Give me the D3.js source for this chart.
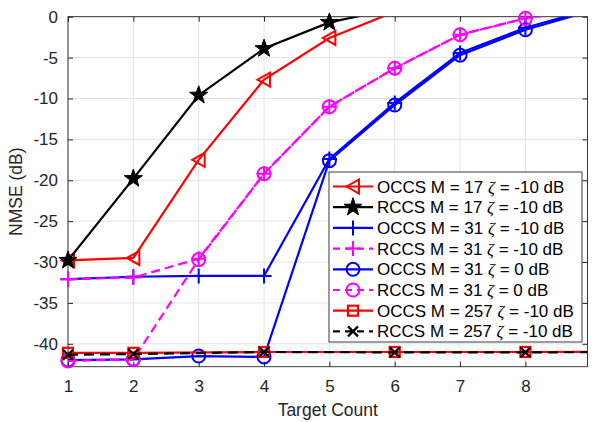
<!DOCTYPE html>
<html><head><meta charset="utf-8">
<script src="https://cdn.jsdelivr.net/npm/d3@7"></script>
<style>body{margin:0;background:#fff}svg{display:block}text{font-family:"Liberation Sans",Arial,sans-serif;fill:#262626}</style>
</head><body><svg id="c" width="596" height="422"></svg>
<script>
const xTicks = [1,2,3,4,5,6,7,8];
const yTicks = [-40,-35,-30,-25,-20,-15,-10,-5,0];
const xFull = [1,2,3,4,5,6,7,8,9];
const xSparse = [1,2,4,6,8,10];
const occs17 = [-29.8,-29.5,-17.5,-7.7,-2.6,0.6];
const rccs17 = [-29.8,-19.8,-9.6,-3.9,-0.7,1.0];
const occs31n10 = [-32.1,-31.8,-31.7,-31.7,-17.4,-10.55,-4.45,-1.35,0.9];
const rccs31n10 = [-32.1,-31.9,-29.6,-19.2,-11.0,-6.3,-2.2,-0.2,1.0];
const occs31z0 = [-42.0,-41.9,-41.5,-41.6,-17.6,-10.8,-4.7,-1.6,0.7];
const rccs31z0 = [-42.1,-41.9,-29.7,-19.2,-11.0,-6.3,-2.2,-0.2,1.0];
const occs257 = [-41.1,-41.1,-41.0,-41.0,-41.0,-40.95];
const rccs257 = [-41.35,-41.25,-41.0,-41.05,-41.05,-41.0];
const labels = ["OCCS M = 17 ","RCCS M = 17 ","OCCS M = 31 ","RCCS M = 31 ","OCCS M = 31 ","RCCS M = 31 ","OCCS M = 257 ","RCCS M = 257 "];
const zetaVals = ["-10 dB","-10 dB","-10 dB","-10 dB","0 dB","0 dB","-10 dB","-10 dB"];

const series = [
 {x:xFull, y:occs17, color:"#ff0000", dash:null, marker:"tri"},
 {x:xFull, y:rccs17, color:"#000000", dash:null, marker:"star"},
 {x:xFull, y:occs31n10, color:"#0000ff", dash:null, marker:"plus"},
 {x:xFull, y:rccs31n10, color:"#ff00ff", dash:"9,5", marker:"plus"},
 {x:xFull, y:occs31z0, color:"#0000ff", dash:null, marker:"circle"},
 {x:xFull, y:rccs31z0, color:"#ff00ff", dash:"9,5", marker:"circle"},
 {x:xSparse, y:occs257, color:"#ff0000", dash:null, marker:"square"},
 {x:xSparse, y:rccs257, color:"#000000", dash:"10,6", marker:"x"}
];

const L=68, R=587.5, T=16.7, B=366.7;
const x = d3.scaleLinear().domain([1,8.95]).range([L,R]);
const y = d3.scaleLinear().domain([-42.8,0]).range([B,T]);
const svg = d3.select("#c");

// grid
const g = svg.append("g");
g.selectAll(".gx").data(xTicks).enter().append("line")
 .attr("x1",d=>x(d)).attr("x2",d=>x(d)).attr("y1",T).attr("y2",B)
 .attr("stroke","#e3e3e3").attr("stroke-width",1);
g.selectAll(".gy").data(yTicks).enter().append("line")
 .attr("y1",d=>y(d)).attr("y2",d=>y(d)).attr("x1",L).attr("x2",R)
 .attr("stroke","#e3e3e3").attr("stroke-width",1);

// axes
const ax = svg.append("g").attr("transform",`translate(0,${B})`)
 .call(d3.axisBottom(x).tickValues(xTicks).tickSize(-5).tickPadding(13).tickFormat(d3.format("d")));
const ay = svg.append("g").attr("transform",`translate(${L},0)`)
 .call(d3.axisLeft(y).tickValues(yTicks).tickSize(-5).tickPadding(10).tickFormat(d=>String(d)));
const axT = svg.append("g").attr("transform",`translate(0,${T})`)
 .call(d3.axisTop(x).tickValues(xTicks).tickSize(-5).tickFormat(""));
const ayR = svg.append("g").attr("transform",`translate(${R},0)`)
 .call(d3.axisRight(y).tickValues(yTicks).tickSize(-5).tickFormat(""));
[ax,ay,axT,ayR].forEach(a=>{
 a.attr("font-size",null).attr("font-family",null);
 a.select(".domain").remove();
 a.selectAll(".tick line").attr("stroke","#262626");
 a.selectAll("text").style("font-size","17px").attr("fill","#262626");
});
svg.append("rect").attr("x",L).attr("y",T).attr("width",R-L).attr("height",B-T)
 .attr("fill","none").attr("stroke","#262626").attr("stroke-width",0.9);

svg.append("defs").append("clipPath").attr("id","clip").append("rect")
 .attr("x",L).attr("y",T).attr("width",R-L).attr("height",B-T);

function star(r){const pts=[];for(let i=0;i<10;i++){const a=-Math.PI/2+i*Math.PI/5;const rr=i%2?r*0.4:r;pts.push([rr*Math.cos(a),rr*Math.sin(a)]);}return "M"+pts.map(p=>p.join(",")).join("L")+"Z";}
function drawMarker(sel,type,cx,cy,color){
 const m = sel.append("g").attr("transform",`translate(${cx},${cy})`);
 const sw=2;
 if(type==="tri") m.append("path").attr("d","M-6.5,0L6,-7L6,7Z").attr("fill","none").attr("stroke",color).attr("stroke-width",sw);
 else if(type==="star") m.append("path").attr("d",star(9.5)).attr("fill",color).attr("stroke",color).attr("stroke-width",1);
 else if(type==="plus") m.append("path").attr("d","M-7.5,0H7.5M0,-7.5V7.5").attr("stroke",color).attr("stroke-width",sw);
 else if(type==="circle") m.append("circle").attr("r",6.5).attr("fill","none").attr("stroke",color).attr("stroke-width",sw);
 else if(type==="square") m.append("rect").attr("x",-5).attr("y",-5).attr("width",10).attr("height",10).attr("fill","none").attr("stroke",color).attr("stroke-width",2.2);
 else if(type==="x") m.append("path").attr("d","M-5,-5L5,5M-5,5L5,-5").attr("stroke",color).attr("stroke-width",2.2);
}

const line = d3.line().x(d=>x(d[0])).y(d=>y(d[1]));
const plot = svg.append("g");
series.forEach(s=>{
 const pts = s.y.map((v,i)=>[s.x[i],v]);
 plot.append("path").attr("d",line(pts)).attr("clip-path","url(#clip)")
  .attr("fill","none").attr("stroke",s.color).attr("stroke-width",2.2)
  .attr("stroke-dasharray",s.dash);
 const mg = plot.append("g");
 pts.filter(p=>p[0]<=8.95 && p[1]<=0).forEach(p=>drawMarker(mg,s.marker,x(p[0]),y(p[1]),s.color));
});

// labels
svg.append("text").attr("x",(L+R)/2).attr("y",416).attr("text-anchor","middle").style("font-size","17.5px").text("Target Count");
svg.append("text").attr("transform",`translate(22,${(T+B)/2}) rotate(-90)`).attr("text-anchor","middle").style("font-size","17.5px").text("NMSE (dB)");

// legend
const lg = svg.append("g");
lg.append("rect").attr("x",329).attr("y",172).attr("width",253).attr("height",170).attr("fill","#fff").attr("stroke","#262626").attr("stroke-width",0.9);
series.forEach((s,i)=>{
 const cy = 186.5 + i*20.7;
 lg.append("line").attr("x1",333).attr("x2",373).attr("y1",cy).attr("y2",cy)
  .attr("stroke",s.color).attr("stroke-width",2.2).attr("stroke-dasharray",s.dash?"7,5":null);
 drawMarker(lg,s.marker,353,cy,s.color);
 const t = lg.append("text").attr("x",377).attr("y",cy+6).style("font-size","17px").style("fill","#000");
 t.append("tspan").text(labels[i]);
 t.append("tspan").style("font-style","italic").style("font-family","'Liberation Serif',serif").text("ζ");
 t.append("tspan").text(" = "+zetaVals[i]);
});
</script></body></html>
